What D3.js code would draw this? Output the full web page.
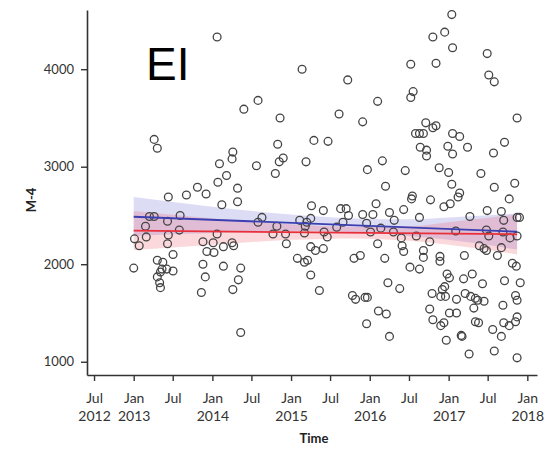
<!DOCTYPE html>
<html>
<head>
<meta charset="utf-8">
<script src="https://cdn.jsdelivr.net/npm/d3@7"></script>
<style>
  body { margin: 0; background: #fff; }
  svg { display: block; }
  .tick text { font-family: Lato, "Open Sans", sans-serif; fill: #333; }
</style>
</head>
<body>
<svg id="chart" width="546" height="451"></svg>
<script>
// panel label and axis titles
var panelLabel = "EI";
var yTitle = "M-4";
var xTitle = "Time";
var yTicks = [1000, 2000, 3000, 4000];

// observations: decimal year and value
var pointYears = [
  2014.06,2013.26,2013.30,2014.26,2014.25,2014.09,2014.18,2014.07,2013.81,
  2013.44,2013.67,2013.92,2014.12,2013.20,2013.26,2013.59,2013.15,2013.43,2013.58,
  2013.44,2013.01,2013.16,2013.07,2013.43,2014.06,2013.88,2014.01,2013.93,2014.02,
  2014.14,2014.25,2014.27,2013.50,2013.30,2013.37,2013.00,2013.36,2013.42,2013.50,
  2013.34,2013.30,2013.33,2013.34,2013.88,2014.14,2013.91,2013.86,2014.26,
  2015.14,2015.72,2014.58,2014.40,2014.86,2016.10,2015.61,2015.91,2014.83,2015.29,
  2015.47,2014.90,2014.85,2014.56,2015.19,2014.80,2016.16,2015.97,2014.32,
  2014.32,2015.26,2015.41,2015.63,2015.70,2015.73,2015.91,2016.04,2016.08,2014.63,
  2014.58,2014.82,2014.77,2014.93,2014.94,2015.11,2015.18,2015.20,2015.25,2015.17,
  2015.42,2015.46,2015.58,2015.66,2015.96,2016.01,2016.14,2016.10,2015.25,2015.31,
  2015.41,2015.08,2015.17,2015.21,2015.80,2015.88,2016.19,2014.36,2014.33,2015.25,
  2015.36,2015.78,2015.82,2015.94,2015.97,2016.11,2015.96,2014.36,
  2017.04,2016.80,2016.95,2017.05,2016.52,2016.84,2017.49,2017.51,2017.58,2016.55,
  2016.52,2017.87,2016.71,2016.80,2016.84,2016.58,2016.63,2016.68,2017.05,2017.14,
  2017.71,2016.64,2016.72,2016.72,2016.99,2017.05,2017.24,2017.57,2016.45,2016.88,
  2017.00,2017.41,2016.20,2017.04,2017.58,2017.84,
  2016.54,2016.53,2016.77,2017.14,2017.12,2017.02,2016.94,2017.77,2017.49,2017.67,
  2016.43,2016.25,2016.31,2016.63,2017.27,2017.70,2017.87,2017.90,2016.30,2016.40,
  2016.59,2016.76,2017.09,2017.48,2017.51,2017.69,2017.78,2017.87,2016.41,2016.43,
  2016.68,2016.68,2016.89,2016.89,2017.39,2017.45,2017.48,2017.67,2017.20,2017.62,
  2017.81,2017.86,2016.51,2016.63,2016.98,2017.01,2017.19,2017.30,2016.23,2016.38,
  2016.95,2016.92,2016.79,2016.90,2016.96,2017.10,2017.21,2017.28,2017.34,2017.37,
  2017.43,2017.45,2017.71,2017.85,2017.87,2017.91,2017.32,2017.69,2016.76,2017.01,
  2017.10,2016.21,2016.80,2016.90,2016.94,2017.34,2017.38,2017.56,2017.70,2017.77,
  2017.85,2017.87,2016.25,2017.16,2017.17,2016.97,2017.67,2017.58,2017.26,2017.87
];
var pointValues = [
  4330,3280,3190,3150,3080,3030,2910,2840,2790,
  2690,2710,2720,2610,2490,2490,2500,2390,2440,2350,
  2300,2260,2280,2190,2210,2310,2230,2220,2130,2120,
  2180,2220,2190,2100,2040,2020,1960,1950,1950,1930,
  1920,1870,1810,1760,2000,1980,1870,1710,1740,
  4000,3890,3680,3590,3500,3670,3540,3460,3230,3270,
  3260,3090,3050,3010,3050,2930,3060,2970,2780,
  2640,2600,2550,2570,2570,2500,2510,2510,2620,2480,
  2430,2390,2310,2310,2210,2450,2390,2430,2470,2320,
  2330,2280,2380,2430,2420,2330,2370,2210,2180,2140,
  2160,2060,2020,2040,2060,2090,2060,1960,1840,1890,
  1730,1680,1640,1660,1660,1520,1390,1300,
  4560,4330,4380,4220,4050,4060,4160,3940,3870,3770,
  3710,3500,3450,3400,3420,3340,3340,3340,3340,3310,
  3250,3200,3170,3110,3210,3130,3200,3140,2960,2990,
  2940,2930,2800,2820,2790,2830,
  2700,2670,2660,2730,2690,2620,2590,2670,2550,2540,
  2560,2530,2450,2480,2490,2450,2480,2480,2330,2270,
  2290,2230,2340,2350,2290,2330,2270,2290,2190,2130,
  2140,2070,2080,2030,2190,2160,2140,2170,2090,2090,
  2010,1980,1970,1950,1900,1860,1850,1900,1810,1750,
  1770,1740,1700,1670,1670,1640,1700,1670,1650,1630,
  1800,1620,1830,1680,1630,1810,1550,1580,1540,1500,
  1500,1490,1430,1370,1400,1410,1400,1330,1400,1370,
  1410,1460,1260,1270,1260,1220,1260,1110,1080,1040
];

// fitted trend lines (start / end)
var fitYears = [2013.0, 2017.87];
var blueFit = [2487, 2333];
var redFit = [2344, 2307];

// confidence bands read at a few dates
var bandYears = [2013.0, 2014.0, 2015.0, 2015.8, 2016.5, 2017.0, 2017.87];
var blueLower = [2290, 2320, 2340, 2330, 2290, 2250, 2150];
var blueUpper = [2690, 2590, 2510, 2470, 2460, 2480, 2520];
var redLower  = [2145, 2200, 2250, 2265, 2240, 2200, 2100];
var redUpper  = [2545, 2470, 2410, 2385, 2390, 2430, 2510];

function toDate(yr) {
  var yy = Math.floor(yr);
  var a = new Date(yy, 0, 1), b = new Date(yy + 1, 0, 1);
  return new Date(+a + (yr - yy) * (b - a));
}

var svg = d3.select("#chart");
var mLeft = 87, mRight = 537, mTop = 10, mBottom = 375;

var x = d3.scaleTime()
  .domain([toDate(2012.408), toDate(2018.123)])
  .range([mLeft, mRight]);
var y = d3.scaleLinear()
  .domain([864, 4607])
  .range([mBottom, mTop]);

// bands
function bandArea(lo, hi) {
  return d3.area()
    .x(function(d, i) { return x(toDate(bandYears[i])); })
    .y0(function(d, i) { return y(lo[i]); })
    .y1(function(d, i) { return y(hi[i]); })
    .curve(d3.curveMonotoneX)(bandYears);
}
svg.append("path").attr("d", bandArea(blueLower, blueUpper))
  .attr("fill", "rgb(115,115,215)").attr("fill-opacity", 0.25);
svg.append("path").attr("d", bandArea(redLower, redUpper))
  .attr("fill", "rgb(240,90,110)").attr("fill-opacity", 0.24);

// points
svg.append("g").selectAll("circle")
  .data(pointYears)
  .join("circle")
  .attr("cx", function(d) { return x(toDate(d)); })
  .attr("cy", function(d, i) { return y(pointValues[i]); })
  .attr("r", 3.9)
  .attr("fill", "none")
  .attr("stroke", "#444")
  .attr("stroke-width", 1.3);

// fit lines
var fitLine = d3.line()
  .x(function(d, i) { return x(toDate(fitYears[i])); })
  .y(function(d) { return y(d); });
svg.append("path").attr("d", fitLine(blueFit))
  .attr("fill", "none").attr("stroke", "#3b3fb0").attr("stroke-width", 1.8);
svg.append("path").attr("d", fitLine(redFit))
  .attr("fill", "none").attr("stroke", "#e8303c").attr("stroke-width", 1.8);

// axes
var yAxis = d3.axisLeft(y).tickValues(yTicks).tickFormat(d3.format("d"))
  .tickSize(6).tickPadding(7).tickSizeOuter(0);
var gy = svg.append("g").attr("transform", "translate(" + mLeft + ",0)").call(yAxis);
gy.selectAll("text").style("font-size", "13px");

var fmtMon = d3.timeFormat("%b"), fmtYear = d3.timeFormat("%Y");
var xAxis = d3.axisBottom(x).ticks(d3.timeMonth.every(6)).tickSize(6).tickSizeOuter(0).tickFormat("");
var gx = svg.append("g").attr("transform", "translate(0," + mBottom + ")").call(xAxis);
gx.selectAll(".tick").each(function(d, i) {
  var t = d3.select(this).append("text")
    .attr("text-anchor", "middle")
    .style("font-size", "14px");
  t.append("tspan").attr("x", 0).attr("y", 28).text(fmtMon(d));
  // year shown under the first tick and under each January
  if (i === 0 || d.getMonth() === 0) {
    t.append("tspan").attr("x", 0).attr("y", 46).text(fmtYear(d));
  }
});

svg.selectAll(".domain").attr("stroke", "#333").attr("stroke-width", 1.6);
svg.selectAll(".tick line").attr("stroke", "#333").attr("stroke-width", 1.4);

// titles
svg.append("text")
  .attr("x", (mLeft + mRight) / 2 + 2).attr("y", 443)
  .attr("text-anchor", "middle")
  .style("font-family", "Lato, 'Open Sans', sans-serif")
  .style("font-weight", "bold").style("font-size", "13px").style("fill", "#222")
  .text(xTitle);
svg.append("text")
  .attr("transform", "translate(36,200) rotate(-90)")
  .attr("text-anchor", "middle")
  .style("font-family", "Lato, 'Open Sans', sans-serif")
  .style("font-weight", "bold").style("font-size", "13px").style("fill", "#222")
  .text(yTitle);
svg.append("text")
  .attr("x", 146).attr("y", 80)
  .style("font-family", "'Liberation Sans', Arial, sans-serif")
  .style("font-size", "46px").style("fill", "#000")
  .text(panelLabel);
</script>
</body>
</html>
